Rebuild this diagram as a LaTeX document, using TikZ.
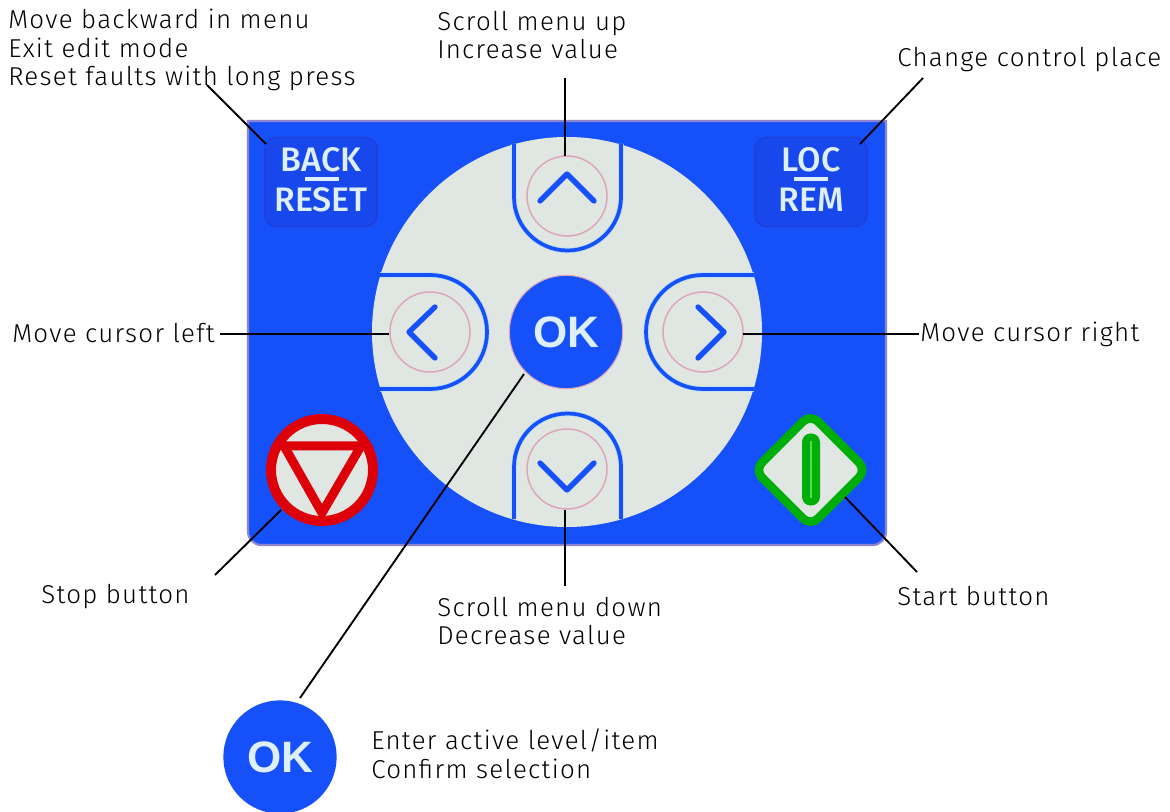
\documentclass[tikz,border=0pt]{standalone}
\usepackage{fontspec}
\newfontfamily\labelfont[LetterSpace=5,UprightFont=* Light]{Fira Sans}
\newfontfamily\keyfont[UprightFont=* Medium]{Fira Sans}
\newfontfamily\okfont{Liberation Sans}
\definecolor{panelblue}{HTML}{1650F8}
\definecolor{keyblue}{HTML}{1848EC}
\definecolor{keyedge}{HTML}{1E3FDC}
\definecolor{panelgrey}{HTML}{E0E7E3}
\definecolor{paneledge}{HTML}{8C84CC}
\definecolor{ringpink}{HTML}{DDA6B8}
\definecolor{halo}{HTML}{B9DDF4}
\definecolor{stopred}{HTML}{DE0008}
\definecolor{startgreen}{HTML}{00AE0A}
\definecolor{barlight}{HTML}{55DE55}
\definecolor{keytext}{HTML}{DCEFFA}
\tikzset{
  txt/.style={font=\labelfont\fontsize{19.4}{21.4}\selectfont, align=left, anchor=west, inner sep=0pt},
  leader/.style={draw=black, line width=1.4pt},
  keybox/.style={draw=keyedge, fill=keyblue, line width=1.2pt, rounded corners=9pt, minimum width=84pt, minimum height=67pt, inner sep=0pt},
  keyword/.style={font=\keyfont\fontsize{25.5}{25.5}\selectfont, text=keytext, inner sep=0pt},
  ring/.style={circle, draw=ringpink, line width=1.1pt, minimum size=60pt, inner sep=0pt},
  curve/.style={draw=halo, line width=.6pt, double=panelblue, double distance=2.8pt},
  chev/.style={draw=panelblue, line width=4pt, line cap=round, line join=round},
  okbtn/.style={circle, fill=panelblue, draw=ringpink, line width=.8pt, minimum size=85pt, inner sep=0pt, text=keytext, font=\okfont\bfseries\fontsize{33}{33}\selectfont}
}
\begin{document}
\begin{tikzpicture}[x=.75pt, y=-.75pt]
  \useasboundingbox (0,0) rectangle (1170,812);
  \draw[paneledge, fill=panelblue, line width=1.6pt] (248,121) -- (886,121) [rounded corners=10pt] -- (886,545) -- (248,545) [sharp corners] -- cycle;
  \fill[panelgrey] (567,332) circle [radius=195];

  \draw[curve] (514,144) -- (514,197) arc [start angle=180, end angle=0, radius=53.5] -- (621,144);
  \draw[curve] (514,519) -- (514,467) arc [start angle=180, end angle=360, radius=53.5] -- (621,519);
  \draw[curve] (380,275) -- (430,275) arc [start angle=-90, end angle=90, radius=57] -- (380,389);
  \draw[curve] (754,275) -- (703,275) arc [start angle=270, end angle=90, radius=57] -- (754,389);

  \node[ring] (ringup) at (567,196) {};
  \node[ring] (ringdown) at (567,469) {};
  \node[ring] (ringleft) at (430,332) {};
  \node[ring] (ringright) at (703,332) {};
  \draw[chev] (540,201) -- (567,174) -- (594,201);
  \draw[chev] (540,463) -- (567,490) -- (594,463);
  \draw[chev] (435,307) -- (409,332) -- (435,358);
  \draw[chev] (698,307) -- (724,332) -- (698,358);

  \node[okbtn] (okkey) at (566,332) {OK};

  \node[keybox] (backkey) at (321,182) {};
  \node[keyword] (backtop) at (321,160) {BACK};
  \node[keyword] (backbottom) at (321,200) {RESET};
  \draw[keytext, line width=3pt] (305,179) -- (339,179);
  \node[keybox] (lockey) at (811,182) {};
  \node[keyword] (loctop) at (811,160) {LOC};
  \node[keyword] (locbottom) at (811,200) {REM};
  \draw[keytext, line width=3pt] (794,179) -- (828,179);

  \node[circle, draw=stopred, fill=panelgrey, line width=7.5pt, minimum size=76.5pt, inner sep=0pt] (stopkey) at (322,470) {};
  \draw[stopred, line width=6.75pt, line join=round] (284,446) -- (361,446) -- (322,513) -- cycle;

  \draw[startgreen, fill=panelgrey, line width=6.5pt, rounded corners=8pt] (810.5,414) -- (866.5,470) -- (810.5,526) -- (754.5,470) -- cycle;
  \node[fill=startgreen, rounded corners=6.5pt, minimum width=13.5pt, minimum height=54pt, inner sep=0pt] (startkey) at (811,469.5) {};
  \draw[barlight, line width=2pt] (811,441) -- (811,498);

  \node[okbtn, draw=none] (okbig) at (280,757) {OK};

  \node[txt] (backtxt) at (8,50) {Move backward in menu\\Exit edit mode\\Reset faults with long press};
  \node[txt] (uptxt) at (437,35) {Scroll menu up\\Increase value};
  \node[txt] (loctxt) at (897,60) {Change control place};
  \node[txt] (lefttxt) at (12,333) {Move cursor left};
  \node[txt] (righttxt) at (920,334) {Move cursor right};
  \node[txt] (stoptxt) at (41,597) {Stop button};
  \node[txt] (downtxt) at (437,621) {Scroll menu down\\Decrease value};
  \node[txt] (starttxt) at (897,596) {Start button};
  \node[txt] (oktxt) at (371,754) {Enter active level/item\\Confirm selection};

  \coordinate (backfrom) at (207,85);
  \coordinate (backto) at (266,144);
  \coordinate (locfrom) at (923,78);
  \coordinate (locto) at (860,144);
  \coordinate (upfrom) at (565,78);
  \coordinate (upto) at (565,156);
  \coordinate (downfrom) at (565,586);
  \coordinate (downto) at (565,510);
  \coordinate (leftfrom) at (220,334);
  \coordinate (leftto) at (389,334);
  \coordinate (rightfrom) at (919,334);
  \coordinate (rightto) at (743,334);
  \coordinate (stopfrom) at (215,575);
  \coordinate (stopto) at (281,510);
  \coordinate (startfrom) at (917,572);
  \coordinate (startto) at (845,497);
  \coordinate (okfrom) at (300,698);
  \coordinate (okto) at (524,374);
  \draw[leader] (backfrom) -- (backto);
  \draw[leader] (locfrom) -- (locto);
  \draw[leader] (upfrom) -- (upto);
  \draw[leader] (downfrom) -- (downto);
  \draw[leader] (leftfrom) -- (leftto);
  \draw[leader] (rightfrom) -- (rightto);
  \draw[leader] (stopfrom) -- (stopto);
  \draw[leader] (startfrom) -- (startto);
  \draw[leader] (okfrom) -- (okto);
\end{tikzpicture}
\end{document}
